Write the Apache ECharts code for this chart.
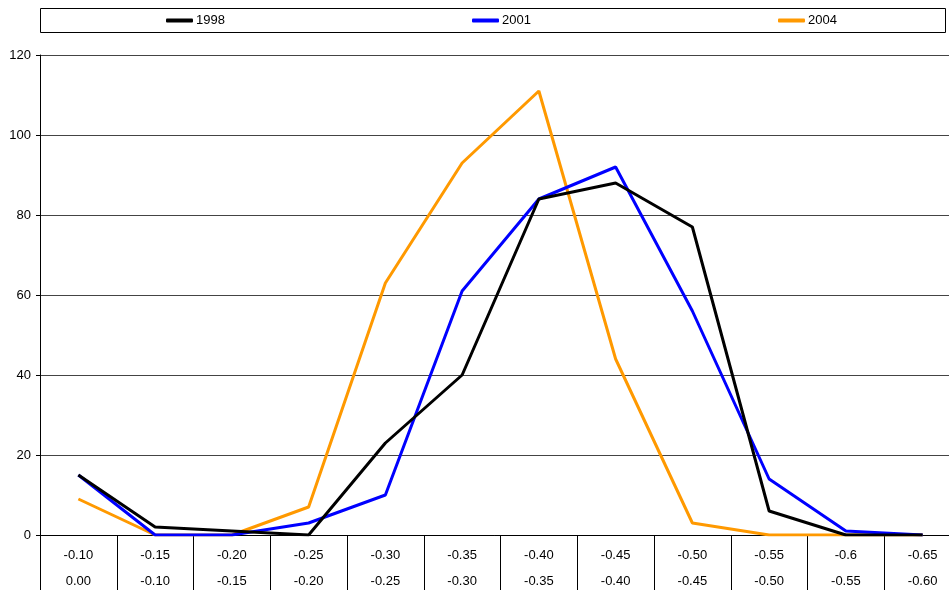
<!DOCTYPE html>
<html>
<head>
<meta charset="utf-8">
<script src="https://cdn.jsdelivr.net/npm/echarts@6/dist/echarts.min.js"></script>
<style>
html,body{margin:0;padding:0;background:#fff;}
#chart{width:949px;height:590px;}
</style>
</head>
<body>
<div id="chart"></div>
<script>
// Category labels (two rows)
const upperLabels = ['-0.10','-0.15','-0.20','-0.25','-0.30','-0.35','-0.40','-0.45','-0.50','-0.55','-0.6','-0.65'];
const lowerLabels = ['0.00','-0.10','-0.15','-0.20','-0.25','-0.30','-0.35','-0.40','-0.45','-0.50','-0.55','-0.60'];
// Series values
const s1998 = [15, 2, 1, 0, 23, 40, 84, 88, 77, 6, 0, 0];
const s2001 = [15, 0, 0, 3, 10, 61, 84, 92, 56, 14, 1, 0];
const s2004 = [9, 0, 0, 7, 63, 93, 111, 44, 3, 0, 0, 0];
const seriesNames = ['1998','2001','2004'];
const seriesColors = ['#000000','#0000FF','#FF9900'];
const yTicks = {min: 0, max: 120, interval: 20};

const chart = echarts.init(document.getElementById('chart'));
const font = 'Liberation Sans, Arial, sans-serif';
const legendLefts = [166, 472, 778];
const legends = seriesNames.map((n, i) => ({
  data: [n],
  left: legendLefts[i],
  top: 14,
  padding: 0,
  icon: 'roundRect',
  itemWidth: 27,
  itemHeight: 4,
  itemGap: 0,
  textStyle: {fontFamily: font, fontSize: 13, color: '#000', padding: [1,0,0,-2]},
  selectedMode: false
}));
const vals = [s1998, s2001, s2004];
chart.setOption({
  animation: false,
  backgroundColor: '#fff',
  graphic: [{
    type: 'rect',
    shape: {x: 40.5, y: 8.5, width: 905, height: 24},
    style: {fill: 'none', stroke: '#000', lineWidth: 1},
    z: -1
  }],
  legend: legends,
  grid: {left: 40, top: 55, width: 921, height: 480, containLabel: false, outerBoundsMode: 'none'},
  xAxis: {
    type: 'category',
    data: upperLabels,
    boundaryGap: true,
    axisLine: {lineStyle: {color: '#000', width: 1}},
    axisTick: {show: true, length: 55, interval: 0, lineStyle: {color: '#000'}},
    axisLabel: {
      interval: 0,
      margin: 7,
      fontFamily: font,
      fontSize: 13,
      color: '#000',
      lineHeight: 26,
      formatter: (v, i) => v + '\n' + lowerLabels[i]
    },
    splitLine: {show: false}
  },
  yAxis: {
    type: 'value',
    min: yTicks.min, max: yTicks.max, interval: yTicks.interval,
    axisLine: {show: true, lineStyle: {color: '#000'}},
    axisTick: {show: true, length: 4, lineStyle: {color: '#000'}},
    axisLabel: {fontFamily: font, fontSize: 13, color: '#000', margin: 9},
    splitLine: {show: true, lineStyle: {color: '#444', width: 1}}
  },
  series: seriesNames.map((n, i) => ({
    name: n,
    type: 'line',
    data: vals[i],
    showSymbol: false,
    symbol: 'none',
    color: seriesColors[i],
    lineStyle: {color: seriesColors[i], width: 3},
    z: 2 + (2 - i)
  }))
});
</script>
</body>
</html>
